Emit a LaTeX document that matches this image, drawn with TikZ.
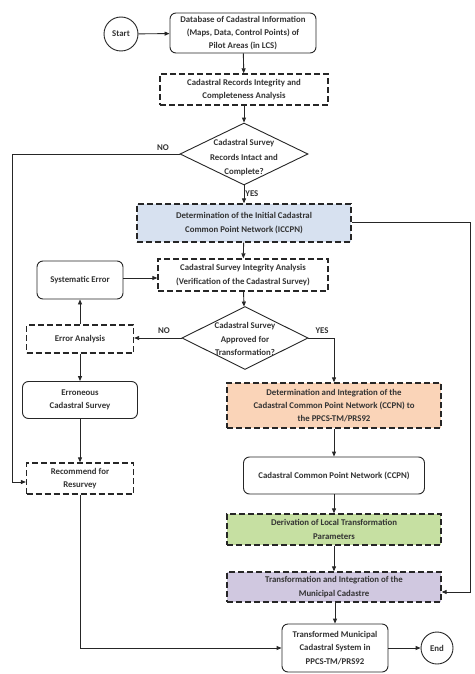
\documentclass[tikz,border=0pt]{standalone}
\usepackage{fontspec}
\setmainfont{Carlito}
\usetikzlibrary{arrows.meta,shapes.geometric}
\definecolor{cblue}{HTML}{D7E1F0}
\definecolor{corange}{HTML}{FAD4B8}
\definecolor{cgreen}{HTML}{C6E0A2}
\definecolor{cpurple}{HTML}{D0C8E0}
\tikzset{
  txt/.style={font=\fontsize{8.8}{13.3}\selectfont\bfseries, align=center, text=black!80, inner sep=0pt},
  dbox/.style={txt, draw=black!85, line width=1.3pt, dash pattern=on 6pt off 3pt, rectangle},
  rbox/.style={txt, draw=black!85, line width=0.9pt, rounded corners=6pt, rectangle},
  circ/.style={txt, draw=black!85, line width=0.9pt, circle},
  dia/.style={draw=black!85, line width=0.9pt, diamond, inner sep=0pt},
  conn/.style={draw=black!85, line width=0.9pt, -{Triangle[length=5pt,width=4pt]}},
  lab/.style={txt}
}
\begin{document}
\begin{tikzpicture}[x=1pt,y=-1pt]
\useasboundingbox (0,0) rectangle (474,674);
\fill[white] (0,0) rectangle (474,674);

\node[circ, minimum size=34pt] (start) at (121,34) {Start};
\node[rbox, minimum width=146pt, minimum height=40pt] (db) at (243,33)
  {Database of Cadastral Information\\(Maps, Data, Control Points) of\\Pilot Areas (in LCS)};
\node[dbox, minimum width=168pt, minimum height=31pt] (rec) at (244,89.5)
  {Cadastral Records Integrity and\\Completeness Analysis};
\node[dia, minimum width=128pt, minimum height=62pt] (d1) at (244,154) {};
\node[txt, font=\fontsize{8.8}{14.5}\selectfont\bfseries] at (244,158) {Cadastral Survey\\Records Intact and\\Complete?};
\node[dbox, fill=cblue, minimum width=214pt, minimum height=38pt] (iccpn) at (244,223)
  {Determination of the Initial Cadastral\\Common Point Network (ICCPN)};
\node[dbox, minimum width=170pt, minimum height=32pt] (integ) at (243,275)
  {Cadastral Survey Integrity Analysis\\(Verification of the Cadastral Survey)};
\node[rbox, minimum width=86pt, minimum height=38pt] (syserr) at (80,280) {Systematic Error};
\node[dia, minimum width=126pt, minimum height=63pt] (d2) at (245,338) {};
\node[txt] at (245,339) {Cadastral Survey\\Approved for\\Transformation?};
\node[dbox, minimum width=107pt, minimum height=28pt] (erran) at (80,339) {Error Analysis};
\node[rbox, minimum width=115pt, minimum height=37pt] (erron) at (80,400) {Erroneous\\Cadastral Survey};
\node[dbox, minimum width=107pt, minimum height=31pt] (recom) at (80,478.5) {Recommend for\\Resurvey};
\node[dbox, fill=corange, minimum width=214pt, minimum height=45pt] (orng) at (334,405.5)
  {Determination and Integration of the\\Cadastral Common Point Network (CCPN) to\\the PPCS-TM/PRS92};
\node[rbox, minimum width=181pt, minimum height=37pt] (ccpn) at (334,475.5)
  {Cadastral Common Point Network (CCPN)};
\node[dbox, fill=cgreen, minimum width=214pt, minimum height=31pt] (grn) at (334,529.5)
  {Derivation of Local Transformation\\Parameters};
\node[dbox, fill=cpurple, minimum width=214pt, minimum height=30pt] (prp) at (334,587)
  {Transformation and Integration of the\\Municipal Cadastre};
\node[rbox, minimum width=106pt, minimum height=48pt] (final) at (335,648)
  {Transformed Municipal\\Cadastral System in\\PPCS-TM/PRS92};
\node[circ, minimum size=32pt] (end) at (437,648) {End};

\coordinate (nl1) at (12,154);
\coordinate (nl2) at (12,482);
\coordinate (rr1) at (470,222);
\coordinate (rr2) at (470,592);
\coordinate (yr) at (334,338);
\coordinate (rb) at (80,648);

\draw[conn] (start) -- (db);
\draw[conn] (db) -- (rec);
\draw[conn] (rec) -- (d1);
\draw[conn] (d1) -- (iccpn) node[lab, pos=0.45, right=1pt] {YES};
\draw[conn] (d1.west) -- (nl1) -- (nl2) -- (nl2 -| recom.west);
\node[lab] at (163,148) {NO};
\draw[conn] (iccpn.east |- rr1) -- (rr1) -- (rr2) -- (rr2 -| prp.east);
\draw[conn] (iccpn) -- (integ);
\draw[conn] (syserr.east |- 0,278) -- (integ.west |- 0,278);
\draw[conn] (integ) -- (d2);
\draw[conn] (d2.west) -- (d2.west -| erran.east);
\node[lab] at (164,331) {NO};
\draw[conn] (d2.east) -- (yr) -- (orng.north);
\node[lab] at (322,331) {YES};
\draw[conn] (erran) -- (syserr);
\draw[conn] (erran) -- (erron);
\draw[conn] (erron) -- (recom);
\draw[conn] (recom) -- (rb) -- (final.west);
\draw[conn] (orng) -- (ccpn);
\draw[conn] (ccpn) -- (grn);
\draw[conn] (grn) -- (prp);
\draw[conn] (prp.south -| final) -- (final);
\draw[conn] (final) -- (end);
\end{tikzpicture}
\end{document}
